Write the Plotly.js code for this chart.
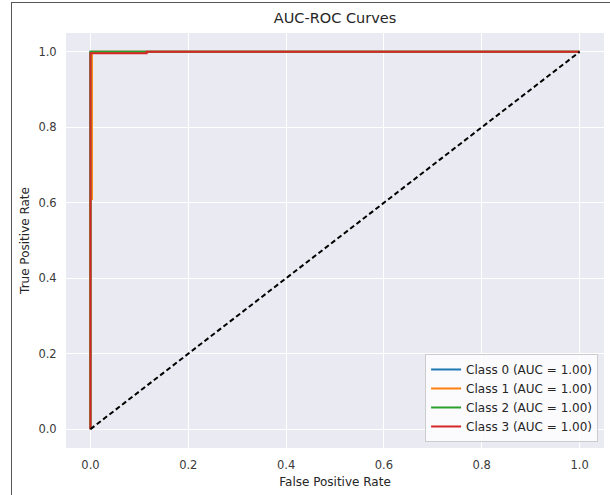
<!DOCTYPE html>
<html>
<head>
<meta charset="utf-8">
<script src="https://cdn.plot.ly/plotly-3.0.1.min.js"></script>
<style>
  html, body { margin: 0; padding: 0; background: #fff; }
  #wrap { position: relative; width: 610px; height: 495px; }
  #chart { width: 610px; height: 495px; }
  #frame { position: absolute; left: 11px; top: 2px; width: 610px; height: 492px;
           border-left: 1px solid #555; border-top: 1px solid #555; pointer-events: none; }
</style>
</head>
<body>
<div id="wrap">
  <div id="chart"></div>
  <div id="frame"></div>
</div>
<script>
// ROC curve data (FPR, TPR) per class
const class0_fpr = [0, 0, 1];
const class0_tpr = [0, 1, 1];
const class1_fpr = [0, 0, 0.003, 0.003, 1];
const class1_tpr = [0, 0.61, 0.61, 1, 1];
const class2_fpr = [0, 0, 1];
const class2_tpr = [0, 1.0, 1];
const class3_fpr = [0, 0, 0.115, 0.115, 1];
const class3_tpr = [0, 0.996, 0.996, 1, 1];
const chance_x = [0, 1];
const chance_y = [0, 1];

const seriesNames = ["Class 0 (AUC = 1.00)", "Class 1 (AUC = 1.00)", "Class 2 (AUC = 1.00)", "Class 3 (AUC = 1.00)"];
const seriesColors = ["#1f77b4", "#ff7f0e", "#2ca02c", "#d62728"];
const tickVals = [0, 0.2, 0.4, 0.6, 0.8, 1.0];
const tickText = ["0.0", "0.2", "0.4", "0.6", "0.8", "1.0"];

const xs = [class0_fpr, class1_fpr, class2_fpr, class3_fpr];
const ys = [class0_tpr, class1_tpr, class2_tpr, class3_tpr];

const traces = xs.map((x, i) => ({
  x: x, y: ys[i], type: "scatter", mode: "lines", name: seriesNames[i],
  line: { color: seriesColors[i], width: 2 }
}));
traces.push({
  x: chance_x, y: chance_y, type: "scatter", mode: "lines", showlegend: false,
  line: { color: "#000000", width: 2, dash: "5px,3px" }
});

const font = "DejaVu Sans, sans-serif";
const axisCommon = {
  range: [-0.05, 1.05], tickvals: tickVals, ticktext: tickText,
  showgrid: true, gridcolor: "#ffffff", gridwidth: 1, zeroline: false,
  showline: false, ticks: "outside", ticklen: 6, tickcolor: "rgba(0,0,0,0)",
  tickfont: { family: font, size: 11.5, color: "#3a3a3a" }
};

const layout = {
  width: 610, height: 495,
  margin: { l: 66, r: 6, t: 33, b: 47 },
  paper_bgcolor: "#ffffff", plot_bgcolor: "#eaeaf2",
  title: { text: "AUC-ROC Curves", x: 0.5, xref: "paper", y: 1 - 18/495, yref: "container",
           yanchor: "middle", font: { family: font, size: 14.5, color: "#262626" } },
  xaxis: Object.assign({}, axisCommon, {
    title: { text: "False Positive Rate", standoff: 6, font: { family: font, size: 12, color: "#262626" } }
  }),
  yaxis: Object.assign({}, axisCommon, {
    title: { text: "True Positive Rate", standoff: 6, font: { family: font, size: 12, color: "#262626" } }
  }),
  legend: {
    x: 0.989, y: 0.0145, xanchor: "right", yanchor: "bottom",
    bgcolor: "rgba(255,255,255,0.8)", bordercolor: "#cccccc", borderwidth: 1,
    font: { family: font, size: 12, color: "#262626" },
    itemwidth: 30, tracegroupgap: 0
  },
  showlegend: true
};

Plotly.newPlot("chart", traces, layout, { displayModeBar: false, staticPlot: true });
</script>
</body>
</html>
